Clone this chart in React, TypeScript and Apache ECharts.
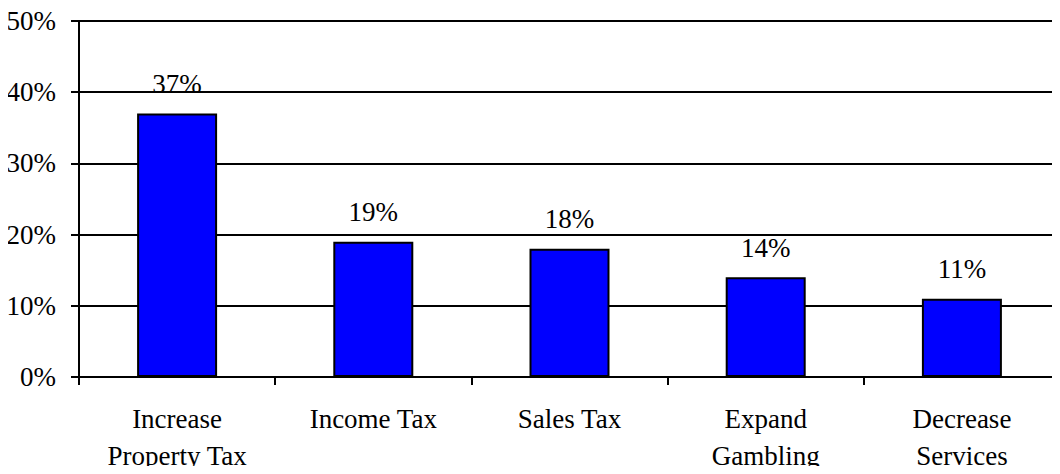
import React, { useEffect, useRef } from "react";
import * as echarts from "echarts";

const categories = ["Increase\nProperty Tax", "Income Tax", "Sales Tax", "Expand\nGambling", "Decrease\nServices"];
const values = [37, 19, 18, 14, 11];
const yTicks = [0, 10, 20, 30, 40, 50];

export default function App() {
  const ref = useRef<HTMLDivElement>(null);
  useEffect(() => {
    const chart = echarts.init(ref.current!, null, { renderer: "svg" });
    const font = "Liberation Serif";
    chart.setOption({
      animation: false,
      grid: { left: 79, top: 21, width: 990, height: 359, containLabel: false },
      xAxis: {
        type: "category",
        data: categories,
        axisLine: { lineStyle: { color: "#000", width: 2 } },
        axisTick: { show: true, length: 8, lineStyle: { color: "#000", width: 2 }, alignWithLabel: false },
        axisLabel: { color: "#000", fontFamily: font, fontSize: 27, lineHeight: 37, margin: 23, interval: 0 },
      },
      yAxis: {
        type: "value",
        min: yTicks[0],
        max: yTicks[yTicks.length - 1],
        interval: 10,
        axisLine: { show: true, lineStyle: { color: "#000", width: 2 } },
        axisTick: { show: true, length: 8, lineStyle: { color: "#000", width: 2 } },
        axisLabel: { color: "#000", fontFamily: font, fontSize: 27, margin: 23, formatter: "{value}%" },
        splitLine: { show: true, lineStyle: { color: "#000", width: 2 } },
      },
      series: [
        {
          type: "bar",
          data: values,
          barWidth: 80,
          itemStyle: { color: "#0000FF", borderColor: "#000", borderWidth: 2 },
          label: {
            show: true,
            position: "top",
            distance: 16,
            color: "#000",
            fontFamily: font,
            fontSize: 27,
            formatter: "{c}%",
          },
        },
      ],
    });
    return () => chart.dispose();
  }, []);
  return <div ref={ref} style={{ width: 1060, height: 474, margin: -8 }} />;
}
